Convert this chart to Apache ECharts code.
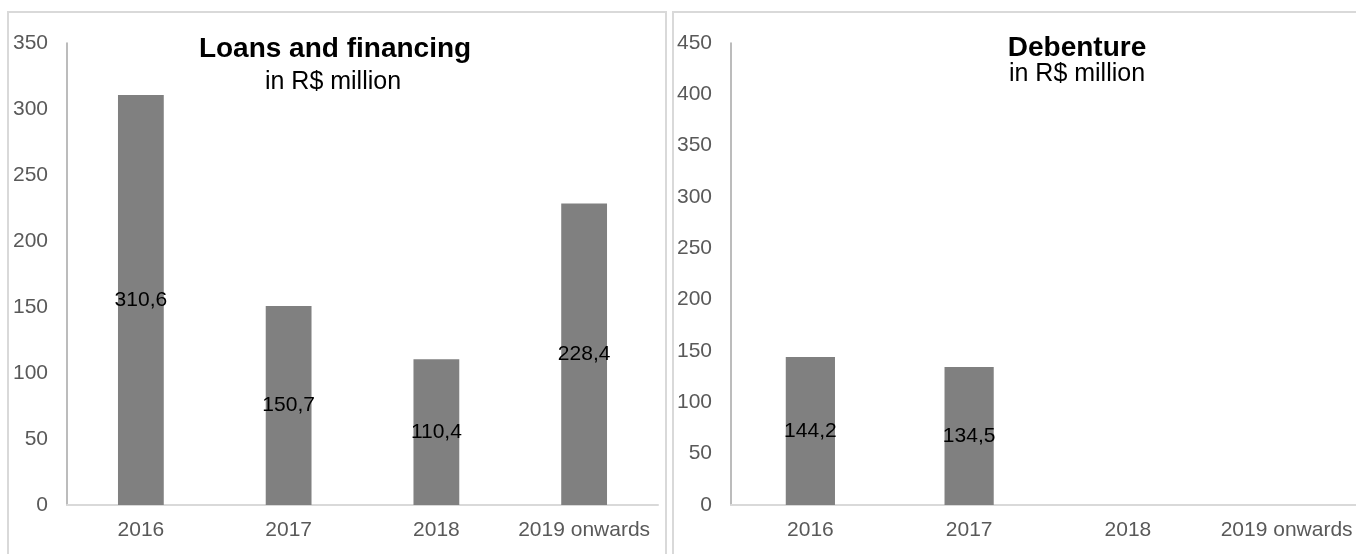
<!DOCTYPE html>
<html><head><meta charset="utf-8">
<script src="https://cdn.jsdelivr.net/npm/echarts@6/dist/echarts.min.js"></script>
<style>html,body{margin:0;padding:0;background:#fff;overflow:hidden;width:1356px;height:554px}#c{width:1372px;height:554px}</style>
</head><body><div id="c"></div>
<script>
const categories = ['2016', '2017', '2018', '2019 onwards'];
const loansValues = [310.6, 150.7, 110.4, 228.4];
const debentureValues = [144.2, 134.5, null, null];
const loansTitle = 'Loans and financing';
const debentureTitle = 'Debenture';
const subtitleText = 'in R$ million';

const FONT = '"Liberation Sans", Arial, sans-serif';
const fmt = p => p.value == null ? '' : p.value.toFixed(1).replace('.', ',');

const chart = echarts.init(document.getElementById('c'));
const axisLbl = {color: '#595959', fontSize: 21, fontFamily: FONT};
function xAx(gi){return {type:'category', gridIndex:gi, data:categories,
  axisLine:{lineStyle:{color:'#d9d9d9', width:2}}, axisTick:{show:false},
  axisLabel:Object.assign({margin:15, interval:0, hideOverlap:false}, axisLbl)};}
function yAx(gi,max){return {type:'value', gridIndex:gi, min:0, max:max, interval:50,
  axisLine:{show:true, lineStyle:{color:'#a6a6a6', width:1.5}}, axisTick:{show:false},
  splitLine:{show:false}, axisLabel:Object.assign({margin:19}, axisLbl)};}
function ser(gi,data){return {type:'bar', xAxisIndex:gi, yAxisIndex:gi, data:data, barWidth:'31%',
  itemStyle:{color:'#808080'}, label:{show:true, position:'inside', color:'#000', fontSize:21, fontFamily:FONT, formatter:fmt}};}
function ttl(text,x,y,size,bold){return {text:text, left:x, top:y, padding:0, textAlign:'center',
  textStyle:{fontSize:size, fontWeight:bold?'bold':'normal', color:'#000', fontFamily:FONT}};}

chart.setOption({
  animation:false,
  title:[
    ttl(loansTitle, 335, 35, 28, true),
    ttl(subtitleText, 333, 70, 25, false),
    ttl(debentureTitle, 1077, 34, 28, true),
    ttl(subtitleText, 1077, 62, 25, false)
  ],
  graphic:[
    {type:'rect', shape:{x:8, y:12, width:658, height:580}, style:{fill:'none', stroke:'#d9d9d9', lineWidth:2}, silent:true},
    {type:'rect', shape:{x:673, y:12, width:720, height:580}, style:{fill:'none', stroke:'#d9d9d9', lineWidth:2}, silent:true}
  ],
  grid:[
    {left:67, top:43, width:591, height:462},
    {left:731, top:43, width:635, height:462}
  ],
  xAxis:[xAx(0), xAx(1)],
  yAxis:[yAx(0,350), yAx(1,450)],
  series:[ser(0,loansValues), ser(1,debentureValues)]
});
</script></body></html>
